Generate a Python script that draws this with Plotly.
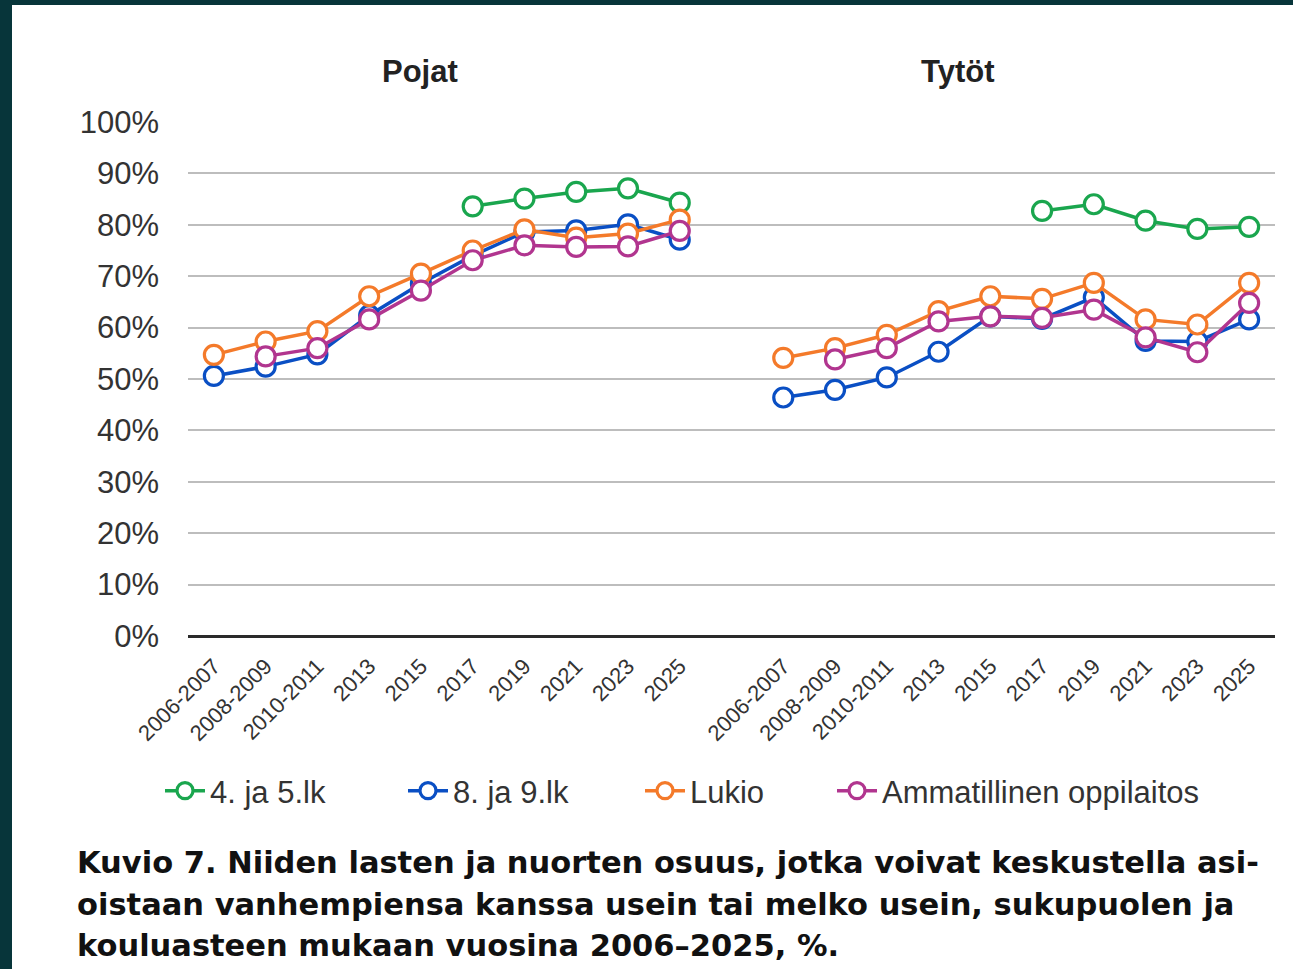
import plotly.graph_objects as go

# ---- data ----
periods = ["2006-2007", "2008-2009", "2010-2011", "2013", "2015",
           "2017", "2019", "2021", "2023", "2025"]
groups = ["Pojat", "Tytöt"]

series_names = ["4. ja 5.lk", "8. ja 9.lk", "Lukio", "Ammatillinen oppilaitos"]
series_colors = ["#1aa64e", "#0a4fc4", "#f47a2a", "#b1358f"]

pojat_lk45 = [None, None, None, None, None, 83.6, 85.1, 86.4, 87.1, 84.3]
pojat_lk89 = [50.6, 52.4, 54.8, 62.4, 68.6, 74.0, 78.6, 78.9, 80.1, 77.1]
pojat_lukio = [54.7, 57.3, 59.3, 66.1, 70.5, 75.0, 79.1, 77.5, 78.3, 81.0]
pojat_amm = [None, 54.4, 56.0, 61.6, 67.2, 73.1, 76.0, 75.7, 75.8, 78.8]

tytot_lk45 = [None, None, None, None, None, 82.7, 84.0, 80.8, 79.2, 79.6]
tytot_lk89 = [46.4, 47.9, 50.3, 55.3, 62.2, 61.7, 65.9, 57.4, 57.3, 61.6]
tytot_lukio = [54.1, 56.0, 58.6, 63.2, 66.1, 65.6, 68.7, 61.6, 60.6, 68.7]
tytot_amm = [None, 53.8, 56.0, 61.2, 62.2, 61.9, 63.5, 58.1, 55.2, 64.8]

y_ticks = [0, 10, 20, 30, 40, 50, 60, 70, 80, 90, 100]

caption_lines = [
    "Kuvio 7. Niiden lasten ja nuorten osuus, jotka voivat keskustella asi-",
    "oistaan vanhempiensa kanssa usein tai melko usein, sukupuolen ja",
    "kouluasteen mukaan vuosina 2006–2025, %.",
]

pojat = [pojat_lk45, pojat_lk89, pojat_lukio, pojat_amm]
tytot = [tytot_lk45, tytot_lk89, tytot_lukio, tytot_amm]

# ---- category positions: Pojat block, one empty slot, Tytöt block ----
n = len(periods)
x_pos = list(range(n)) + [n] + list(range(n + 1, 2 * n + 1))
tick_vals = list(range(n)) + list(range(n + 1, 2 * n + 1))
tick_text = periods + periods

# ---- pixel helpers for layout placement ----
W, H = 1293, 969
L, R, T, B = 188, 1275, 122, 636


def px(x):
    return (x - L) / (R - L)


def py(y):
    return (B - y) / (B - T)


AX_FONT = "Liberation Sans, Arial, sans-serif"
legend_ids = ["legend", "legend2", "legend3", "legend4"]
legend_x = [160, 403, 640, 832]

fig = go.Figure()
for name, color, p, t, lid in zip(series_names, series_colors, pojat, tytot,
                                  legend_ids):
    fig.add_trace(go.Scatter(
        x=x_pos, y=p + [None] + t, name=name, legend=lid,
        mode="lines+markers", connectgaps=False,
        line=dict(color=color, width=3.5),
        marker=dict(symbol="circle", size=19, color="white",
                    line=dict(color=color, width=3.2)),
    ))

shapes = [
    dict(type="rect", xref="paper", yref="paper", layer="below",
         x0=px(12), x1=px(W + 5), y0=py(5), y1=py(H + 5),
         fillcolor="white", line=dict(width=0)),
]

annotations = []
for g, cx in zip(groups, [420, 957]):
    annotations.append(dict(
        text=f"<b>{g}</b>", xref="paper", yref="paper", x=px(cx), y=py(72),
        xanchor="center", yanchor="middle", showarrow=False,
        font=dict(family=AX_FONT, size=31, color="#222")))
for line, cy in zip(caption_lines, [862, 904, 945]):
    annotations.append(dict(
        text=f"<b>{line}</b>", xref="paper", yref="paper", x=px(75), y=py(cy),
        xanchor="left", yanchor="middle", showarrow=False,
        font=dict(family="DejaVu Sans", size=30.5, color="#111")))

legend_layout = {}
for lid, lx in zip(legend_ids, legend_x):
    legend_layout[lid] = dict(
        orientation="h", x=px(lx), y=py(791), xanchor="left",
        yanchor="middle", font=dict(family=AX_FONT, size=31, color="#333"),
        itemwidth=40, bgcolor="rgba(0,0,0,0)")

fig.update_layout(
    width=W, height=H,
    margin=dict(l=L, r=W - R, t=T, b=H - B),
    paper_bgcolor="#07353a", plot_bgcolor="white",
    showlegend=True,
    shapes=shapes, annotations=annotations,
    xaxis=dict(range=[-0.5, 2 * n + 0.5], tickmode="array",
               tickvals=tick_vals, ticktext=tick_text, tickangle=-45,
               showgrid=False, zeroline=False, showline=False, ticks="",
               ticklabelstandoff=12,
               tickfont=dict(family=AX_FONT, size=22, color="#333")),
    yaxis=dict(range=[0, 100], tickmode="array", tickvals=y_ticks,
               ticktext=[f"{v}%" for v in y_ticks],
               showgrid=True, gridcolor="#bdbdbd", gridwidth=2,
               zeroline=True, zerolinecolor="#2a2a2a", zerolinewidth=3,
               showline=False, ticks="", ticklabelstandoff=28,
               tickfont=dict(family=AX_FONT, size=31, color="#333")),
    **legend_layout,
)

fig.write_html(
    "out.html",
    config={"displayModeBar": False},
    post_script="document.body.style.margin='0';"
                "document.body.style.overflow='hidden';",
)
